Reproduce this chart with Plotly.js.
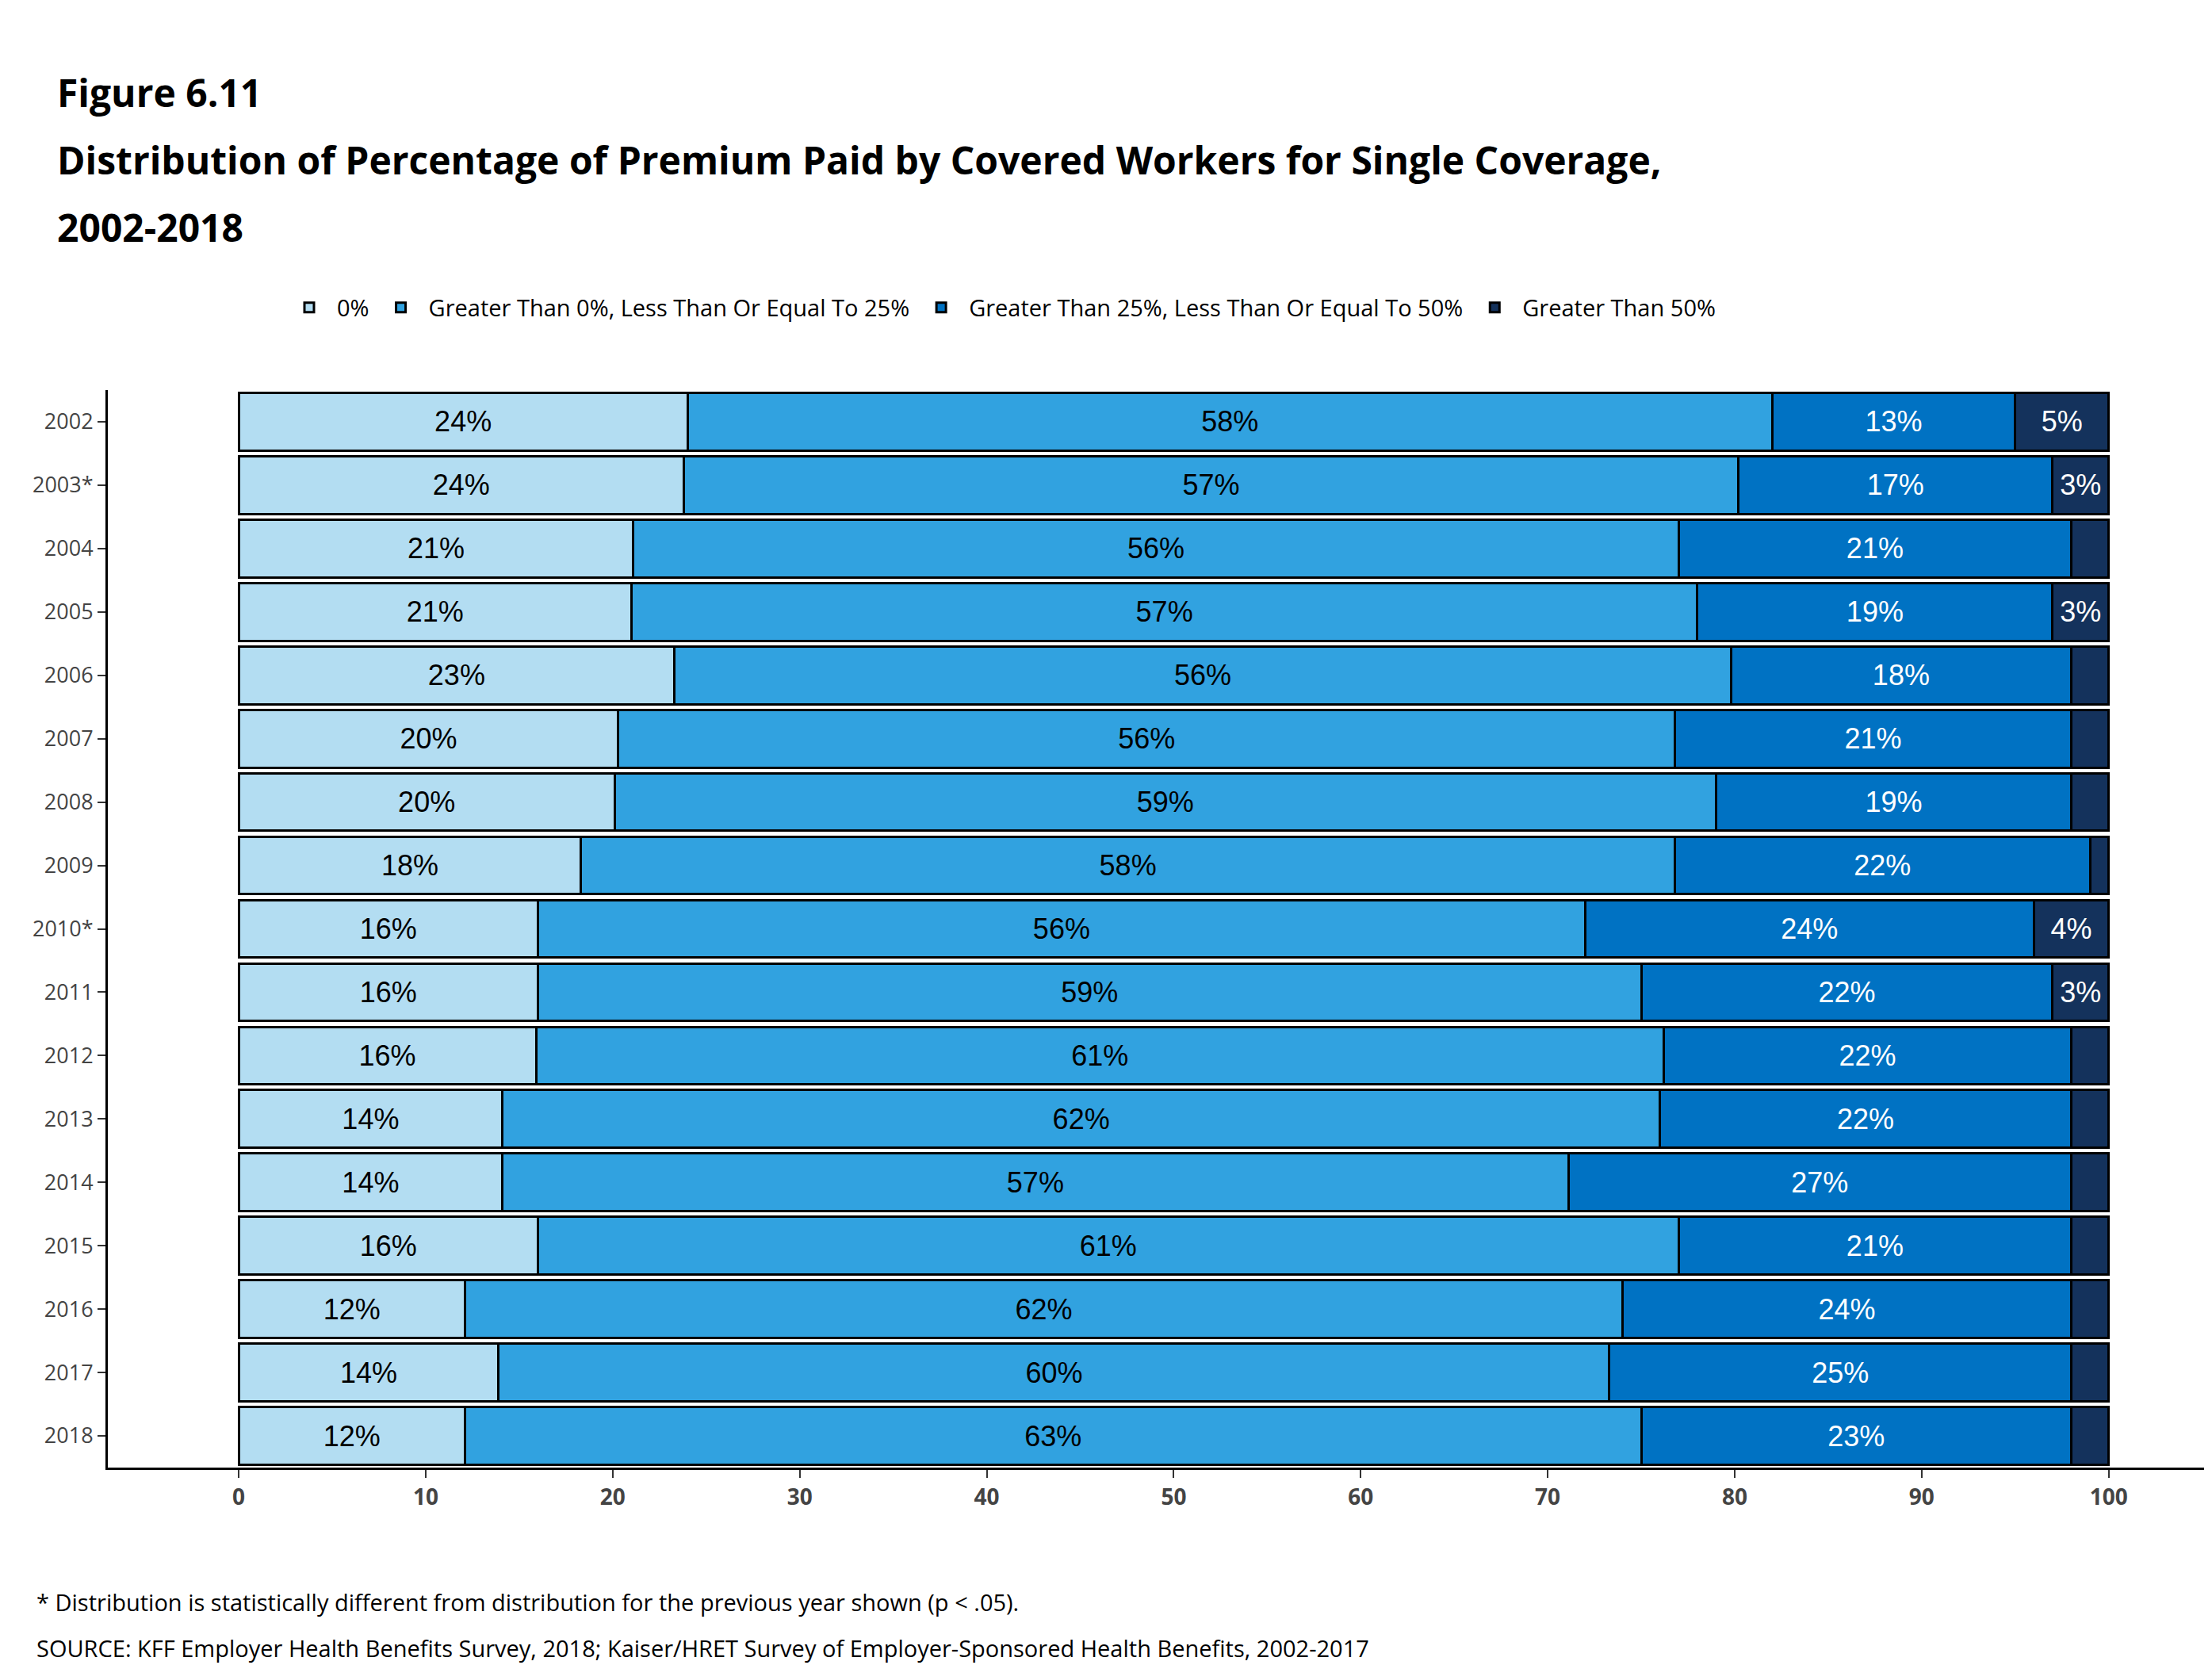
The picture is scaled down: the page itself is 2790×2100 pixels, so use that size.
<!DOCTYPE html>
<html>
<head>
<meta charset="utf-8">
<script src="https://cdn.plot.ly/plotly-3.0.1.min.js"></script>
<style>body{margin:0;background:#fff}#chart{width:2790px;height:2100px}</style>
</head>
<body>
<div id="chart"></div>
<script>
var years = ['2002','2003*','2004','2005','2006','2007','2008','2009','2010*','2011','2012','2013','2014','2015','2016','2017','2018'];
var zero   = [24, 23.8, 21.1, 21, 23.3, 20.3, 20.1, 18.3, 16, 16, 15.9, 14.1, 14.1, 16, 12.1, 13.9, 12.1];
var upTo25 = [58, 56.4, 55.9, 57, 56.5, 56.5, 58.9, 58.5, 56, 59, 60.3, 61.9, 57, 61, 61.9, 59.4, 62.9];
var upTo50 = [13, 16.8, 21, 19, 18.2, 21.2, 19, 22.2, 24, 22, 21.8, 22, 26.9, 21, 24, 24.7, 23];
var over50 = [5, 3, 2, 3, 2, 2, 2, 1, 4, 3, 2, 2, 2, 2, 2, 2, 2];
var lblZero   = ['24%','24%','21%','21%','23%','20%','20%','18%','16%','16%','16%','14%','14%','16%','12%','14%','12%'];
var lblUpTo25 = ['58%','57%','56%','57%','56%','56%','59%','58%','56%','59%','61%','62%','57%','61%','62%','60%','63%'];
var lblUpTo50 = ['13%','17%','21%','19%','18%','21%','19%','22%','24%','22%','22%','22%','27%','21%','24%','25%','23%'];
var lblOver50 = ['5%','3%','','3%','','','','','4%','3%','','','','','','',''];

var names = ['0%','Greater Than 0%, Less Than Or Equal To 25%','Greater Than 25%, Less Than Or Equal To 50%','Greater Than 50%'];
var colors = ['#b3ddf2','#31a2e0','#0072c3','#14325c'];
var textCol = ['#000','#000','#fff','#fff'];
var vals = [zero, upTo25, upTo50, over50];
var lbls = [lblZero, lblUpTo25, lblUpTo50, lblOver50];

var data = [];
for (var i = 0; i < 4; i++) {
  data.push({
    type: 'bar', orientation: 'h', name: names[i],
    y: years, x: vals[i], text: lbls[i],
    textposition: 'inside', insidetextanchor: 'middle', textangle: 0,
    constraintext: 'none',
    textfont: {family: 'Liberation Sans, Arial', size: 36, color: textCol[i]},
    marker: {color: colors[i], line: {color: '#000', width: 3}},
    hoverinfo: 'none'
  });
}

// plot area in px
var L = 136, R = 2780, T = 492, B = 1851;
function px(x) { return (x - L) / (R - L); }
function py(y) { return (B - y) / (B - T); }

var titleFont = {family: 'Open Sans, Lato, sans-serif', size: 48, color: '#000', weight: 'bold'};
var noteFont = {family: 'Open Sans, Lato, sans-serif', size: 29, color: '#000'};
var ann = [
  {text: '<b>Figure 6.11</b>', x: px(70), y: py(116)},
  {text: '<b>Distribution of Percentage of Premium Paid by Covered Workers for Single Coverage,</b>', x: px(70), y: py(202)},
  {text: '<b>2002-2018</b>', x: px(70), y: py(286)}
].map(function (a) {
  return {text: a.text, x: a.x, y: a.y, xref: 'paper', yref: 'paper', xanchor: 'left', yanchor: 'middle', showarrow: false, font: titleFont};
});
ann.push({text: '* Distribution is statistically different from distribution for the previous year shown (p < .05).',
  x: px(44), y: py(2020), xref: 'paper', yref: 'paper', xanchor: 'left', yanchor: 'middle', showarrow: false, font: noteFont});
ann.push({text: 'SOURCE: KFF Employer Health Benefits Survey, 2018; Kaiser/HRET Survey of Employer-Sponsored Health Benefits, 2002-2017',
  x: px(44), y: py(2078), xref: 'paper', yref: 'paper', xanchor: 'left', yanchor: 'middle', showarrow: false, font: noteFont});

var layout = {
  width: 2790, height: 2100,
  paper_bgcolor: '#fff', plot_bgcolor: '#fff',
  margin: {l: L, r: 2790 - R, t: T, b: 2100 - B},
  barmode: 'stack', bargap: 0.09,
  showlegend: true,
  legend: {orientation: 'h', x: px(355), y: py(388), xanchor: 'left', yanchor: 'middle',
    font: {family: 'Open Sans, Lato, sans-serif', size: 29, color: '#000'}, traceorder: 'normal', itemwidth: 60},
  xaxis: {range: [-7, 105.1], tickvals: [0,10,20,30,40,50,60,70,80,90,100], ticksuffix: '%',
    showgrid: false, zeroline: false, showline: true, linecolor: '#000', linewidth: 3,
    ticks: 'outside', ticklen: 10, tickwidth: 2, tickcolor: '#333',
    tickfont: {family: 'Open Sans, Lato, sans-serif', size: 28, color: '#444', weight: 'bold'}},
  yaxis: {autorange: 'reversed', type: 'category', showgrid: false, zeroline: false,
    showline: true, linecolor: '#000', linewidth: 3,
    ticks: 'outside', ticklen: 10, tickwidth: 2, tickcolor: '#333',
    tickfont: {family: 'Open Sans, Lato, sans-serif', size: 27, color: '#444'}},
  annotations: ann
};

Plotly.newPlot('chart', data, layout, {staticPlot: true});
</script>
</body>
</html>
